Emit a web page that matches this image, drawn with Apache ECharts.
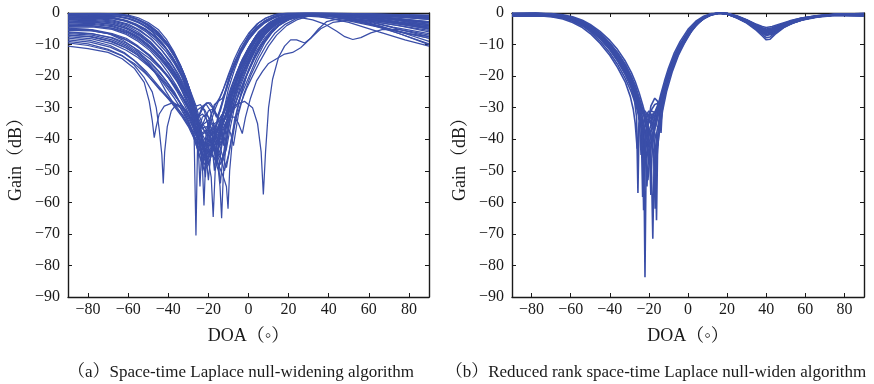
<!DOCTYPE html>
<html>
<head>
<meta charset="utf-8">
<script src="https://cdn.jsdelivr.net/npm/echarts@6/dist/echarts.min.js"></script>
<style>
  html, body { margin: 0; padding: 0; background: #fff; }
  #chart { width: 874px; height: 384px; }
</style>
</head>
<body>
<div id="chart"></div>
<script>
// Tick positions shared by both panels
const doaTicks = [-80, -60, -40, -20, 0, 20, 40, 60, 80];
const gainTicks = [0, -10, -20, -30, -40, -50, -60, -70, -80, -90];

// Panel (a): beam patterns of the space-time Laplace null-widening runs, [DOA°, gain dB]
const runsA = [
  [[-90,-0.5],[-75,-0.4],[-65,-0.6],[-60,-1],[-55,-2],[-50,-3.5],[-45,-6],[-40,-10],[-36,-14],[-33,-18],[-30,-23],[-28,-27],[-26,-31],[-24,-36],[-22,-42],[-20,-48],[-19,-46],[-17,-38],[-15,-32],[-12,-26],[-9,-20],[-6,-15.5],[-3,-11.5],[0,-8.5],[4,-5.5],[8,-3.2],[12,-1.8],[17,-0.6],[22,-0.2],[30,-0.3],[45,-0.6],[60,-1],[75,-1.2],[90,-1.5]],
  [[-90,-1.2],[-75,-1],[-64,-1.2],[-58,-2],[-53,-3.5],[-48,-6],[-43,-9.5],[-38,-14],[-34,-19],[-31,-24],[-29,-28],[-27,-33],[-26,-38],[-25,-33],[-23,-29.5],[-21,-29],[-19,-31],[-17,-36],[-15.5,-45],[-14,-38],[-12,-30],[-10,-24],[-7,-18],[-4,-13],[0,-8.5],[4,-5],[9,-2.5],[14,-1],[20,-0.3],[30,-0.2],[45,-0.5],[60,-1.2],[75,-2],[90,-3]],
  [[-90,-2],[-78,-1.8],[-68,-2.2],[-60,-3.5],[-54,-5.5],[-48,-8.5],[-43,-12],[-38,-16.5],[-34,-21],[-31,-25],[-29,-29],[-27.2,-36],[-26.2,-70.5],[-25.3,-38],[-23,-33],[-21,-32],[-19,-34],[-16,-37],[-13,-33],[-10,-27],[-7,-21],[-4,-16],[0,-11],[4,-7],[9,-4],[14,-2],[20,-0.8],[28,-0.3],[40,-0.8],[55,-1.5],[70,-2.5],[80,-3.5],[90,-4.5]],
  [[-90,-3],[-78,-2.8],[-68,-3.5],[-60,-5],[-54,-7],[-48,-10],[-43,-13.5],[-39,-17],[-35,-21],[-32,-25],[-29,-30],[-27,-34],[-25,-39],[-23.2,-45],[-22.2,-61],[-21.2,-44],[-19,-38],[-17,-35],[-14,-34],[-11,-30],[-8,-24],[-5,-19],[-2,-14],[2,-9.5],[6,-6],[11,-3],[16,-1.5],[22,-0.5],[30,-0.2],[45,-0.4],[60,-0.8],[75,-1.3],[90,-2]],
  [[-90,-4],[-78,-4],[-68,-4.8],[-60,-6.3],[-54,-8.5],[-48,-11.5],[-43,-15],[-38,-19],[-34,-23],[-31,-27],[-28,-31],[-26,-35],[-24,-40],[-22,-44],[-20,-47],[-18.6,-52],[-17.6,-64.6],[-16.6,-50],[-15,-42],[-13,-36],[-10,-29],[-7,-23],[-4,-18],[0,-12.5],[4,-8],[9,-4.5],[14,-2.3],[20,-1],[28,-0.4],[40,-0.6],[55,-1.5],[70,-3],[80,-4],[90,-5]],
  [[-90,-5],[-78,-5.3],[-68,-6.5],[-61,-8],[-55,-10.5],[-49,-13.5],[-44,-17],[-40,-20.5],[-36,-24.5],[-32,-29],[-29,-33],[-26,-38],[-23,-42],[-20,-44],[-17,-46],[-15,-50],[-14.2,-55],[-13.4,-65],[-12.6,-52],[-11,-40],[-8,-30],[-5,-23],[-1,-16],[3,-11],[7,-7],[12,-4],[17,-2],[23,-0.8],[32,-0.5],[45,-1],[60,-2.5],[75,-4],[90,-5.5]],
  [[-90,-6],[-78,-6.5],[-68,-8],[-61,-10],[-55,-12.5],[-49,-15.5],[-44,-19],[-40,-22.5],[-36,-26.5],[-33,-30],[-30,-34],[-27,-39],[-24,-42],[-21,-43],[-18,-45],[-15,-48],[-12.5,-52],[-11,-55],[-10.2,-62],[-9.4,-50],[-8,-40],[-6,-32],[-3,-24],[0,-18],[4,-12],[8,-8],[13,-4.5],[18,-2.5],[24,-1.2],[32,-0.8],[45,-1.5],[60,-3.5],[75,-6],[90,-8]],
  [[-90,-10.5],[-80,-11.3],[-70,-12.5],[-63,-14.5],[-57,-17.5],[-52,-22],[-49.5,-28],[-48,-34],[-47,-39.5],[-46,-36],[-44.5,-32],[-42,-29.5],[-38,-28.5],[-34,-30],[-31,-33],[-28,-38],[-25,-44],[-22,-50],[-20,-48],[-17,-42],[-14,-38],[-11,-32],[-8,-25],[-5,-19],[-1,-13],[3,-8.5],[8,-5],[13,-2.8],[19,-1.3],[26,-0.6],[35,-1],[50,-3],[65,-6],[78,-8.5],[90,-10.5]],
  [[-90,-9],[-80,-9.8],[-70,-11.5],[-63,-13.5],[-57,-16.5],[-52,-20.5],[-48,-25],[-46,-30],[-44.5,-37],[-43.2,-45],[-42.5,-54],[-41.8,-44],[-40.5,-36],[-38.5,-31],[-36,-29],[-33,-29.5],[-30,-32],[-27,-37],[-24,-43],[-21,-47],[-18,-44],[-15,-39],[-12,-33],[-9,-27],[-6,-21],[-2,-15],[2,-10],[7,-6],[12,-3.5],[18,-1.8],[25,-0.8],[35,-1.2],[50,-2.5],[65,-4.5],[80,-6.5],[90,-7.5]],
  [[-90,-7],[-78,-7.5],[-68,-9],[-61,-11],[-55,-13.5],[-50,-16.5],[-45,-20],[-41,-23.5],[-37,-27],[-34,-30],[-31,-33.5],[-28,-37],[-25,-40],[-22,-42],[-19,-41],[-16,-38],[-13,-34],[-10,-31],[-6,-29],[-2,-28],[2,-30],[4.5,-35],[6.3,-44],[7.4,-57.5],[8.5,-44],[10,-30],[12,-21],[15,-14],[18,-10.5],[21,-8.5],[24,-8.5],[28,-9.5],[31,-8],[35,-5],[39,-2.7],[45,-1.8],[55,-2],[70,-3],[90,-4.5]],
  [[-90,-6.5],[-78,-7],[-68,-8.5],[-61,-10.5],[-55,-13],[-50,-15.5],[-45,-18.5],[-41,-21.5],[-37,-25],[-34,-28.5],[-31,-32],[-28,-36],[-25,-40],[-22,-43],[-19,-45],[-16,-42],[-13,-37],[-10,-33],[-7,-33],[-5,-35],[-3.1,-38.2],[-1.5,-33],[1,-27],[4,-21.5],[7,-18.5],[10,-16],[14,-14.5],[18,-13],[22,-12.5],[26,-11],[31,-8],[36,-5],[42,-3],[50,-2.3],[60,-2.5],[75,-4],[90,-6]],
  [[-90,-3.5],[-78,-3.3],[-68,-4],[-61,-5.5],[-55,-7.5],[-50,-10],[-45,-13],[-40,-17],[-36,-21],[-33,-25],[-30,-29.5],[-27,-35],[-24,-41],[-21,-45],[-18,-42],[-15,-36],[-12,-30],[-9,-24],[-6,-19],[-3,-14.5],[1,-10],[5,-6.5],[10,-3.8],[15,-2.2],[20,-1.5],[26,-1.5],[32,-2.2],[38,-3.5],[44,-5.8],[48,-7.5],[52,-8.4],[56,-7.8],[61,-6.3],[67,-5.2],[75,-5.3],[82,-6],[90,-7]],
  [[-90,-0.3],[-75,-0.2],[-66,-0.4],[-61,-0.8],[-56,-1.8],[-51,-3.5],[-46,-6],[-41,-9.5],[-37,-13.5],[-34,-17.5],[-31,-22],[-29,-26],[-27,-31],[-25.5,-34],[-24,-31.5],[-22,-29],[-20,-28.5],[-18,-30],[-16,-33],[-14,-31],[-12,-26.5],[-10,-22],[-7,-16.5],[-4,-12],[0,-7.5],[4,-4.5],[8,-2.5],[13,-1],[18,-0.3],[25,-0.1],[40,-0.3],[55,-0.6],[70,-0.8],[90,-1]],
  [[-90,-1.5],[-77,-1.3],[-67,-1.6],[-61,-2.5],[-56,-3.8],[-51,-5.5],[-46,-8],[-41,-11.5],[-37,-15.5],[-33,-20],[-30,-24.5],[-28,-28.5],[-26,-33],[-24,-37],[-22,-34],[-20,-31],[-18,-30.5],[-16,-32],[-14,-36],[-12.5,-42],[-11,-36],[-9,-28],[-6,-21],[-3,-15],[1,-10],[5,-6],[10,-3.2],[15,-1.5],[21,-0.5],[30,-0.3],[45,-0.8],[60,-1.8],[75,-3],[90,-4]],
  [[-90,-2.5],[-78,-2.3],[-68,-2.8],[-61,-4],[-55,-6],[-49,-9],[-44,-12.5],[-39,-16.5],[-35,-20.5],[-32,-24],[-29,-28],[-26,-32],[-23,-36],[-20,-40],[-17,-43],[-14,-46],[-12,-50],[-10,-45],[-8,-38],[-6,-33],[-4,-29],[-1,-24],[2,-20],[6,-15],[10,-10.5],[14,-7],[19,-4],[24,-2.2],[30,-1],[38,-0.5],[50,-0.8],[65,-1.5],[80,-2.5],[90,-3.2]],
  [[-90,-4.5],[-78,-4.4],[-68,-5.2],[-61,-6.8],[-55,-9],[-49,-12],[-44,-15.5],[-40,-19],[-36,-23],[-33,-26.5],[-30,-30.5],[-27,-35.5],[-25,-39],[-23,-42],[-21,-46],[-20,-53],[-19,-46],[-17,-40],[-15,-36],[-13,-33],[-10,-27],[-7,-21],[-4,-16],[0,-11],[4,-7],[9,-4],[14,-2],[20,-0.8],[28,-0.2],[40,-0.4],[55,-1],[70,-2],[90,-3.5]],
  [[-90,-5.5],[-78,-5.7],[-68,-6.8],[-61,-8.5],[-55,-10.8],[-49,-13.8],[-44,-17],[-40,-20],[-36,-23.5],[-33,-26.5],[-30,-29.5],[-27,-33],[-24,-36],[-21,-38],[-18,-40],[-16,-44],[-14,-48],[-12,-44],[-10,-36],[-7,-28],[-4,-22],[0,-16],[4,-11],[8,-7],[13,-4],[18,-2],[24,-0.8],[32,-0.3],[45,-0.8],[60,-2],[75,-3.5],[90,-5]],
  [[-90,-7.5],[-78,-8.2],[-68,-9.8],[-61,-11.8],[-55,-14.2],[-50,-16.8],[-45,-19.8],[-41,-22.8],[-37,-26],[-34,-28.5],[-31,-31],[-28,-34],[-26,-37],[-24,-41],[-22.6,-46],[-21.5,-52],[-20.5,-44],[-19,-39],[-16,-35],[-13,-32],[-10,-28],[-7,-23],[-4,-18],[0,-13],[4,-8.5],[9,-5],[14,-2.7],[20,-1.2],[27,-0.5],[38,-0.6],[52,-1.8],[68,-4],[80,-6],[90,-7.5]],
  [[-90,-8.5],[-79,-9.2],[-69,-10.8],[-62,-12.8],[-56,-15.5],[-51,-18.5],[-47,-21.5],[-43,-24.5],[-39,-27.5],[-36,-30],[-33,-32.5],[-30,-35.5],[-27,-39],[-25,-43],[-24.2,-55],[-23.4,-44],[-21,-40],[-18,-38],[-15,-37],[-12,-34],[-9,-29],[-6,-24],[-3,-19],[1,-14],[5,-9.5],[10,-5.5],[15,-3],[21,-1.4],[28,-0.6],[40,-1],[55,-2.5],[70,-5],[90,-8]],
  [[-90,-2],[-78,-1.6],[-68,-1.8],[-62,-2.5],[-57,-3.5],[-52,-5],[-47,-7.5],[-42,-10.5],[-38,-14],[-34,-18.5],[-31,-23],[-29,-27],[-27,-31.5],[-25,-36],[-23,-41],[-21,-46],[-19,-44],[-17,-39],[-15,-33],[-13,-28],[-10,-21],[-7,-16],[-4,-12],[0,-8],[4,-5],[8,-3],[13,-1.3],[18,-0.4],[25,-0.1],[40,-0.2],[55,-0.5],[70,-0.9],[90,-1.2]],
  [[-90,-3.2],[-78,-3],[-68,-3.6],[-61,-5],[-55,-7],[-49,-9.8],[-44,-13],[-39,-17],[-35,-21],[-32,-24.5],[-29,-28.5],[-27,-31.5],[-25,-33],[-23,-32],[-21,-33.5],[-19,-37],[-17,-42],[-15,-48],[-14,-54],[-13,-47],[-11,-38],[-9,-31],[-6,-24],[-3,-18],[1,-12.5],[5,-8],[10,-4.5],[15,-2.3],[21,-0.9],[30,-0.3],[45,-0.6],[60,-1.3],[75,-2.2],[90,-3]],
  [[-90,-0.8],[-76,-0.6],[-66,-0.9],[-60,-1.6],[-55,-2.8],[-50,-4.5],[-45,-7],[-40,-10.5],[-36,-14.5],[-33,-18.5],[-30,-23.5],[-28,-28],[-26,-33],[-24,-38],[-22.5,-44],[-21,-40],[-19,-35],[-17,-31],[-15,-28],[-13,-25],[-10,-20],[-7,-15.5],[-4,-11.5],[0,-7.5],[4,-4.5],[9,-2.2],[14,-0.9],[20,-0.2],[30,0],[45,-0.2],[60,-0.5],[75,-0.9],[90,-1.3]],
  [[-90,-6.2],[-78,-6.6],[-68,-7.8],[-61,-9.5],[-55,-11.8],[-49,-14.6],[-44,-17.6],[-40,-20.5],[-36,-23.8],[-33,-26.6],[-30,-29.8],[-27,-33.5],[-25,-36],[-23,-38],[-21,-37],[-19,-36],[-17,-38],[-15,-41],[-13,-45],[-11,-49],[-9,-42],[-7,-34],[-4,-26],[-1,-20],[3,-14],[7,-9.5],[12,-5.5],[17,-3],[23,-1.3],[30,-0.5],[42,-0.8],[58,-2.3],[72,-4.5],[90,-6.5]],
  [[-90,-1.8],[-78,-1.5],[-67,-1.7],[-61,-2.6],[-56,-4],[-51,-6],[-46,-8.8],[-41,-12.3],[-37,-16],[-33,-20.5],[-30,-25],[-28,-29],[-26,-33],[-24,-36],[-22,-35],[-20,-34],[-18,-35.5],[-16,-39],[-14,-42],[-12,-38],[-10,-31],[-7,-23.5],[-4,-17.5],[0,-12],[4,-7.5],[8,-4.5],[13,-2.2],[19,-0.8],[26,-0.2],[40,-0.3],[55,-0.8],[70,-1.6],[90,-2.7]],
  [[-90,-9.5],[-80,-10.3],[-70,-11.8],[-63,-13.6],[-57,-16],[-52,-18.8],[-47,-22],[-43,-25],[-39,-28],[-36,-30.5],[-33,-33],[-30,-36],[-27,-40],[-25,-44],[-23,-48],[-21,-45],[-19,-41],[-16,-38],[-13,-35],[-10,-31],[-7,-26],[-4,-21],[0,-15.5],[4,-10.5],[8,-7],[13,-4],[18,-2.2],[24,-1],[32,-0.6],[45,-1.3],[60,-3.2],[75,-6.5],[90,-9.8]],
  [[-90,-4.8],[-80,-5.2],[-70,-6.5],[-63,-8.5],[-57,-11],[-52,-14],[-48,-17.5],[-44,-21.5],[-41,-25],[-38,-28],[-35,-30.5],[-32,-33],[-29,-36.5],[-26,-40.5],[-23.5,-45],[-22,-48],[-20,-46],[-18,-42],[-15,-38],[-12,-34],[-9,-28],[-6,-22],[-2,-16.5],[2,-11.5],[6,-7.5],[11,-4.2],[16,-2.2],[22,-0.9],[30,-0.3],[45,-0.5],[60,-1.4],[75,-2.8],[90,-4]],
  [[-90,-0.4],[-76,-0.3],[-66,-0.5],[-60,-1.1],[-55,-2.2],[-50,-3.8],[-45,-6.3],[-41,-9.3],[-37,-13],[-34,-16.5],[-31,-21],[-29,-25],[-27,-29.5],[-25,-33],[-23,-30.5],[-21,-28.5],[-19,-28.5],[-17,-30.5],[-15,-34],[-13,-38],[-11.5,-44],[-10,-37],[-8,-28],[-5,-20],[-2,-14.5],[2,-9],[6,-5.5],[11,-2.8],[16,-1.2],[22,-0.3],[32,0],[45,-0.1],[60,-0.3],[75,-0.5],[90,-0.7]],
  [[-90,-2.8],[-78,-2.6],[-68,-3.1],[-61,-4.5],[-55,-6.5],[-50,-9],[-45,-12],[-40,-15.8],[-36,-19.5],[-33,-23],[-30,-27],[-28,-30],[-26,-33.5],[-24,-37.5],[-22,-42],[-20.5,-48],[-19,-42],[-17,-37],[-15,-34],[-13,-32],[-11,-29],[-8,-23],[-5,-18],[-1,-13],[3,-8.5],[7,-5.5],[12,-3],[17,-1.5],[23,-0.5],[32,-0.2],[45,-0.6],[60,-1.5],[75,-3],[90,-4.8]],
  [[-90,-0.2],[-75,-0.1],[-65,-0.3],[-60,-0.7],[-55,-1.5],[-50,-3],[-45,-5.2],[-41,-8.3],[-37,-12.5],[-34,-16.5],[-31,-21.5],[-29,-25.5],[-27,-30],[-25,-35],[-23,-40],[-21.5,-47],[-20.5,-40],[-19,-33],[-17,-29],[-15,-28],[-13,-27],[-11,-24],[-9,-20],[-6,-15],[-3,-10.5],[1,-6],[5,-3.2],[9,-1.5],[14,-0.4],[20,0],[35,0],[50,-0.2],[65,-0.4],[80,-0.6],[90,-0.8]],
  [[-90,-1],[-76,-0.8],[-66,-1.1],[-60,-1.9],[-55,-3.1],[-50,-4.8],[-45,-7.3],[-40,-10.8],[-36,-14.8],[-33,-18.5],[-30,-23],[-27,-28],[-25,-32],[-23,-35],[-21,-37],[-19,-40],[-17,-44],[-16,-48],[-15,-43],[-13,-39],[-11,-36],[-9,-33],[-7,-29.5],[-4,-24.5],[-1,-20],[3,-14.5],[7,-10],[11,-6.5],[15,-4],[20,-2],[26,-0.8],[33,-0.2],[45,-0.2],[60,-0.6],[75,-1.2],[90,-2]],
  [[-90,-3.8],[-78,-3.6],[-68,-4.3],[-61,-5.8],[-55,-7.8],[-49,-10.6],[-44,-13.8],[-40,-16.8],[-36,-20.3],[-33,-23.5],[-30,-27],[-28,-29.5],[-26,-31],[-24,-30],[-22,-30.5],[-20,-33],[-18,-38],[-16.5,-46],[-15.5,-40],[-14,-35],[-12,-31],[-10,-28],[-8,-26],[-5,-22],[-2,-17.5],[2,-12],[6,-7.8],[10,-4.8],[15,-2.6],[20,-1.2],[28,-0.3],[40,-0.2],[55,-0.7],[70,-1.8],[80,-3],[90,-4.2]],
  [[-90,-5.2],[-79,-5.5],[-69,-6.6],[-62,-8.2],[-56,-10.4],[-50,-13.3],[-45,-16.5],[-41,-19.5],[-37,-23],[-34,-26],[-31,-29.3],[-28,-33],[-26,-36],[-24,-39],[-22,-38],[-20,-37],[-18,-39],[-16,-42],[-14,-40],[-12,-36],[-10,-33],[-8,-31],[-6,-29.5],[-3,-25],[0,-20.5],[4,-14.5],[8,-9.5],[12,-6],[16,-3.5],[21,-1.7],[27,-0.6],[35,-0.3],[50,-0.9],[65,-2.2],[80,-3.8],[90,-5]],
  [[-90,-0.6],[-76,-0.4],[-66,-0.5],[-61,-0.9],[-57,-1.7],[-53,-2.9],[-49,-4.5],[-45,-6.5],[-41,-9.2],[-38,-12],[-35,-15.5],[-32,-19.5],[-30,-23],[-28,-27],[-26.5,-31],[-25,-36],[-24,-42],[-23,-50],[-22,-42],[-20.5,-36],[-18.5,-32],[-16.5,-29],[-14.5,-27],[-12.5,-24],[-10,-19.5],[-7,-14.5],[-4,-10.5],[0,-6.5],[4,-3.6],[8,-1.8],[13,-0.5],[19,0],[30,0],[45,-0.1],[60,-0.3],[75,-0.6],[90,-1]],
  [[-90,-7],[-79,-7.6],[-69,-9],[-62,-10.8],[-56,-13],[-51,-15.6],[-46,-18.6],[-42,-21.5],[-38,-24.8],[-35,-27.5],[-32,-30.5],[-29,-34],[-27,-37],[-25,-41],[-23.5,-45],[-22,-43],[-20,-40],[-18,-41],[-16,-45],[-14.8,-50],[-13.8,-44],[-12,-37],[-10,-32],[-7,-26],[-4,-20.5],[0,-15],[4,-10],[8,-6.5],[13,-3.8],[18,-2],[24,-0.9],[32,-0.5],[45,-1.4],[60,-3.5],[75,-6.5],[90,-10]],
  [[-90,-1.4],[-77,-1.2],[-67,-1.5],[-61,-2.3],[-56,-3.5],[-51,-5.2],[-46,-7.6],[-42,-10.3],[-38,-13.8],[-35,-17],[-32,-21],[-30,-24],[-28,-27.5],[-26,-29.5],[-24,-29],[-22,-31],[-20,-36],[-18,-43],[-17,-50],[-16,-43],[-14,-37],[-12,-34],[-10,-32],[-8,-28],[-6,-23.5],[-3,-17.5],[1,-11.5],[5,-7],[9,-4],[14,-1.8],[20,-0.5],[28,0],[40,-0.1],[55,-0.4],[70,-0.9],[90,-1.8]],
  [[-90,-8],[-79,-8.7],[-69,-10.3],[-62,-12.5],[-57,-15],[-52,-18.3],[-48,-21.5],[-44,-24.5],[-40,-27],[-37,-28.5],[-34,-29.8],[-31,-31.5],[-28,-34],[-25,-37.5],[-22,-41],[-19,-44],[-16,-47],[-14,-43],[-12,-38],[-10,-34],[-8,-31],[-5,-26],[-2,-21],[2,-15.5],[6,-10.5],[10,-7],[15,-4],[20,-2.2],[27,-0.9],[36,-0.6],[50,-1.8],[65,-4],[78,-6.5],[90,-9]],
  [[-90,-2.2],[-78,-2],[-68,-2.5],[-61,-3.6],[-55,-5.4],[-49,-8],[-44,-11.2],[-39,-15.2],[-35,-19.3],[-32,-23],[-29,-27.5],[-27,-31],[-25,-35],[-23,-38.5],[-21,-41],[-19,-42],[-17,-40],[-15,-37],[-13,-35],[-11,-35.5],[-9,-38],[-7.5,-42],[-6.5,-38],[-5,-32],[-2.5,-26],[1,-20],[5,-14.5],[9,-10],[13,-6.5],[18,-3.7],[24,-1.7],[32,-0.5],[45,-0.3],[60,-0.8],[75,-1.7],[90,-2.8]],
  [[-90,-4.2],[-78,-4.1],[-68,-4.9],[-61,-6.4],[-55,-8.5],[-49,-11.4],[-44,-14.7],[-40,-17.8],[-36,-21.4],[-33,-24.7],[-30,-28.5],[-27,-32.5],[-25,-35],[-23,-36.5],[-21,-36],[-19,-37.5],[-17,-40],[-15,-44],[-13,-47],[-11,-43],[-9,-36],[-7,-30],[-4,-23],[0,-16.5],[4,-11],[8,-7],[13,-3.8],[18,-1.8],[24,-0.6],[32,-0.1],[45,-0.3],[60,-1],[75,-2.3],[90,-3.8]]
];

// Panel (b): beam patterns of the reduced-rank variant, [DOA°, gain dB]
const runsB = [
  [[-90,-0.3],[-78,-0.2],[-70,-0.5],[-64,-1],[-59,-1.8],[-54,-3],[-50,-4.5],[-45,-7],[-40,-10.3],[-36,-13.5],[-32,-17.5],[-29,-21.5],[-27,-24.5],[-25,-28.5],[-23,-34],[-21.5,-40],[-20,-48],[-18.5,-40],[-17,-35],[-15,-30],[-13,-25],[-10,-18.5],[-7,-13.5],[-4,-9.8],[0,-5.8],[4,-3],[8,-1.2],[12,-0.3],[16,0],[20,-0.3],[25,-1.3],[30,-2.6],[35,-4.2],[38,-5.3],[40,-5.8],[43,-5.4],[47,-4.3],[52,-3],[58,-1.9],[66,-1],[75,-0.5],[90,-0.3]],
  [[-90,-0.5],[-78,-0.4],[-70,-0.7],[-64,-1.3],[-59,-2.2],[-54,-3.6],[-50,-5.2],[-45,-8],[-40,-11.5],[-36,-15],[-32,-19.5],[-29,-23.5],[-27,-27],[-25,-31],[-23.5,-36],[-22.6,-45],[-22,-83.7],[-21.4,-46],[-20,-38],[-18,-33],[-16,-30],[-14,-27],[-12,-23],[-10,-19],[-7,-14],[-4,-10.2],[0,-6.2],[4,-3.3],[8,-1.4],[12,-0.4],[16,0],[20,-0.2],[25,-1.1],[30,-2.4],[35,-4],[38,-5],[40,-5.5],[43,-5.1],[47,-4],[52,-2.8],[58,-1.8],[66,-1],[75,-0.6],[90,-0.5]],
  [[-90,-0.2],[-78,-0.1],[-70,-0.3],[-64,-0.8],[-59,-1.5],[-54,-2.6],[-50,-4],[-45,-6.3],[-40,-9.5],[-36,-12.5],[-32,-16.3],[-29,-20],[-27,-23],[-25,-27],[-23,-31],[-21,-35],[-19.5,-42],[-18.6,-52],[-18,-71.5],[-17.4,-50],[-16,-38],[-14,-31],[-12,-26],[-10,-20.5],[-7,-15],[-4,-11],[0,-6.8],[4,-3.6],[8,-1.6],[12,-0.5],[16,0],[20,-0.1],[25,-0.9],[30,-2.1],[35,-3.7],[38,-4.7],[40,-5.1],[43,-4.7],[47,-3.8],[52,-2.6],[58,-1.6],[66,-0.9],[75,-0.4],[90,-0.2]],
  [[-90,-0.6],[-78,-0.5],[-70,-0.8],[-64,-1.2],[-59,-2],[-54,-3.2],[-50,-4.7],[-45,-7.2],[-40,-10.5],[-36,-13.8],[-32,-17.8],[-29,-21.8],[-27,-25],[-25,-28.5],[-23,-32],[-21,-33],[-19,-32],[-17.5,-38],[-16.6,-48],[-16.1,-65.7],[-15.6,-45],[-14.5,-33],[-13,-27],[-10,-20],[-7,-14.8],[-4,-10.8],[0,-6.5],[4,-3.4],[8,-1.5],[12,-0.4],[16,0],[20,-0.2],[25,-1.2],[30,-2.5],[35,-4.3],[38,-5.6],[40,-6.2],[43,-5.8],[47,-4.6],[52,-3.2],[58,-2],[66,-1.1],[75,-0.6],[90,-0.5]],
  [[-90,-0.4],[-78,-0.3],[-70,-0.6],[-64,-1.1],[-59,-2],[-54,-3.3],[-50,-4.9],[-45,-7.6],[-40,-11],[-36,-14.6],[-32,-19],[-29,-23.5],[-27.5,-27],[-26.3,-33],[-25.6,-57],[-25,-35],[-24,-33],[-22,-37],[-20,-42],[-18,-40],[-16,-34],[-14,-28.5],[-12,-24],[-10,-19.5],[-7,-14.3],[-4,-10.3],[0,-6.2],[4,-3.2],[8,-1.3],[12,-0.3],[16,0],[20,-0.3],[25,-1.3],[30,-2.7],[35,-4.5],[38,-6],[40,-6.8],[43,-6.2],[47,-4.8],[52,-3.3],[58,-2.1],[66,-1.2],[75,-0.6],[90,-0.4]],
  [[-90,-0.8],[-78,-0.7],[-70,-0.9],[-64,-1.4],[-59,-2.3],[-54,-3.7],[-50,-5.3],[-45,-8.1],[-40,-11.6],[-36,-15.2],[-32,-19.5],[-29,-23.5],[-27,-27],[-25.5,-31],[-24,-36],[-23.2,-44],[-22.7,-62.5],[-22.2,-44],[-21,-36],[-19,-31],[-17,-29],[-15,-28.5],[-13,-26],[-10,-20],[-7,-14.7],[-4,-10.6],[0,-6.4],[4,-3.3],[8,-1.4],[12,-0.4],[16,0],[20,-0.2],[25,-1.1],[30,-2.4],[35,-4.1],[38,-5.2],[40,-5.7],[43,-5.3],[47,-4.2],[52,-3],[58,-1.9],[66,-1],[75,-0.6],[90,-0.6]],
  [[-90,-0.3],[-78,-0.2],[-70,-0.4],[-64,-0.9],[-59,-1.7],[-54,-2.9],[-50,-4.3],[-45,-6.7],[-40,-9.8],[-36,-13],[-32,-17],[-29,-20.8],[-27,-23.8],[-25,-27.5],[-23,-31.5],[-21,-35],[-19,-40],[-17.5,-46],[-17,-50],[-16,-42],[-14.5,-33],[-13,-28],[-10,-21],[-7,-15.6],[-4,-11.5],[0,-7.2],[4,-3.9],[8,-1.8],[12,-0.6],[16,-0.1],[20,-0.3],[25,-1.6],[30,-3.2],[35,-5.5],[38,-7.3],[40,-8.5],[42,-8.3],[45,-6.5],[49,-4.6],[54,-3.1],[60,-1.9],[67,-1.1],[75,-0.6],[90,-0.3]],
  [[-90,-0.5],[-78,-0.4],[-70,-0.6],[-64,-1.1],[-59,-1.9],[-54,-3.1],[-50,-4.6],[-45,-7.1],[-40,-10.4],[-36,-13.8],[-32,-18],[-29,-22],[-27,-25.5],[-25,-30],[-24,-34],[-23.2,-58.3],[-22.5,-38],[-21,-33],[-19,-31],[-17,-31.5],[-15,-30],[-13,-26],[-10,-19.8],[-7,-14.6],[-4,-10.7],[0,-6.6],[4,-3.5],[8,-1.6],[12,-0.5],[16,0],[20,-0.3],[25,-1.5],[30,-3],[35,-5.2],[38,-6.8],[40,-7.8],[42,-7.6],[45,-6.1],[49,-4.4],[54,-3],[60,-1.9],[67,-1.1],[75,-0.6],[90,-0.5]],
  [[-90,-0.2],[-78,-0.1],[-70,-0.4],[-64,-0.9],[-59,-1.6],[-54,-2.8],[-50,-4.2],[-45,-6.6],[-40,-9.7],[-36,-12.9],[-32,-16.8],[-29,-20.5],[-27,-23.5],[-25,-27.3],[-23,-31.5],[-21,-36.5],[-19.6,-45],[-19,-57.7],[-18.4,-44],[-17,-36],[-15,-30.5],[-13,-26],[-10,-20.2],[-7,-15],[-4,-11],[0,-6.8],[4,-3.6],[8,-1.6],[12,-0.5],[16,0],[20,-0.2],[25,-1],[30,-2.2],[35,-3.6],[38,-4.3],[40,-4.6],[43,-4.3],[47,-3.5],[52,-2.5],[58,-1.6],[66,-0.9],[75,-0.4],[90,-0.2]],
  [[-90,-0.7],[-78,-0.6],[-70,-1],[-64,-1.6],[-59,-2.6],[-54,-4.1],[-50,-5.9],[-45,-8.9],[-40,-12.6],[-36,-16.3],[-32,-20.8],[-29,-25],[-27,-28.5],[-25,-33],[-23,-39],[-21.5,-47],[-20.5,-53],[-19.5,-45],[-18,-38],[-16,-33],[-14,-29],[-12,-24.5],[-10,-20.5],[-7,-15.2],[-4,-11.1],[0,-6.9],[4,-3.7],[8,-1.7],[12,-0.5],[16,0],[20,-0.2],[25,-1.2],[30,-2.5],[35,-4.3],[38,-5.5],[40,-6.1],[43,-5.7],[47,-4.5],[52,-3.1],[58,-2],[66,-1.1],[75,-0.6],[90,-0.6]],
  [[-90,-0.1],[-78,0],[-70,-0.2],[-64,-0.6],[-59,-1.2],[-54,-2.3],[-50,-3.6],[-45,-5.8],[-40,-8.7],[-36,-11.6],[-32,-15.3],[-29,-18.8],[-27,-21.7],[-25,-25.3],[-23,-29.5],[-21,-34],[-19.5,-38],[-18,-36],[-16,-31],[-14,-26],[-12,-21.5],[-10,-17.5],[-7,-12.6],[-4,-9],[0,-5.2],[4,-2.6],[8,-1],[12,-0.2],[16,0],[20,-0.4],[25,-1.4],[30,-2.8],[35,-4.5],[38,-5.8],[40,-6.4],[43,-6],[47,-4.8],[52,-3.3],[58,-2.1],[66,-1.2],[75,-0.6],[90,-0.2]],
  [[-90,-0.4],[-78,-0.3],[-70,-0.5],[-64,-1],[-59,-1.8],[-54,-3],[-50,-4.5],[-45,-7],[-40,-10.2],[-36,-13.5],[-32,-17.5],[-29,-21.5],[-27,-24.5],[-25,-28.5],[-23,-34],[-21.5,-40],[-20.2,-35],[-19,-29.5],[-17,-27],[-15.5,-28],[-14.5,-32],[-13.8,-38],[-13.2,-31],[-12,-25.5],[-10,-20],[-7,-14.7],[-4,-10.8],[0,-6.6],[4,-3.5],[8,-1.5],[12,-0.4],[16,0],[20,-0.2],[25,-1.2],[30,-2.5],[35,-4.2],[38,-5.4],[40,-5.9],[43,-5.5],[47,-4.4],[52,-3.1],[58,-2],[66,-1.1],[75,-0.6],[90,-0.4]],
  [[-90,-0.6],[-78,-0.5],[-70,-0.7],[-64,-1.2],[-59,-2.1],[-54,-3.4],[-50,-5],[-45,-7.6],[-40,-11],[-36,-14.4],[-32,-18.7],[-29,-22.8],[-27,-26],[-25,-30.5],[-23,-36],[-21.8,-44],[-21,-55],[-20.2,-44],[-19,-38],[-17,-32.5],[-15,-29],[-13,-25.5],[-10,-19.5],[-7,-14.4],[-4,-10.5],[0,-6.4],[4,-3.3],[8,-1.4],[12,-0.3],[16,0],[20,-0.3],[25,-1.3],[30,-2.7],[35,-4.6],[38,-6.1],[40,-7],[43,-6.6],[47,-5.1],[52,-3.5],[58,-2.2],[66,-1.2],[75,-0.7],[90,-0.6]],
  [[-90,-0.3],[-78,-0.2],[-70,-0.5],[-64,-1],[-59,-1.9],[-54,-3.2],[-50,-4.7],[-45,-7.3],[-40,-10.7],[-36,-14.1],[-32,-18.4],[-29,-22.6],[-27,-26],[-25.5,-31],[-24.5,-38],[-24,-45],[-23.3,-38],[-22,-33],[-20,-31],[-18,-33],[-16,-34],[-14,-29.5],[-12,-24.5],[-10,-20.3],[-7,-15],[-4,-11],[0,-6.8],[4,-3.6],[8,-1.6],[12,-0.5],[16,0],[20,-0.2],[25,-1.1],[30,-2.3],[35,-4],[38,-5.1],[40,-5.6],[43,-5.2],[47,-4.1],[52,-2.9],[58,-1.8],[66,-1],[75,-0.5],[90,-0.3]],
  [[-90,-0.5],[-78,-0.4],[-70,-0.6],[-64,-1.1],[-59,-1.9],[-54,-3.1],[-50,-4.6],[-45,-7.1],[-40,-10.3],[-36,-13.6],[-32,-17.6],[-29,-21.4],[-27,-24.3],[-25,-27.8],[-23,-31],[-21,-33.5],[-19,-35],[-17,-38],[-15.5,-42],[-14.5,-37],[-13,-31],[-11,-25],[-8,-18.5],[-5,-13.5],[-2,-9.8],[2,-5.6],[6,-2.8],[10,-1],[14,-0.2],[18,0],[22,-0.5],[26,-1.5],[30,-2.6],[35,-4.2],[38,-5.3],[40,-5.8],[43,-5.4],[47,-4.3],[52,-3],[58,-1.9],[66,-1],[75,-0.5],[90,-0.5]],
  [[-90,-1],[-78,-0.9],[-70,-1.1],[-64,-1.6],[-59,-2.4],[-54,-3.8],[-50,-5.4],[-45,-8.1],[-40,-11.5],[-36,-15],[-32,-19.3],[-29,-23.4],[-27,-26.8],[-25,-31],[-23.5,-37],[-22.5,-50],[-21.5,-39],[-20,-34],[-18,-32],[-16,-31.5],[-14,-29],[-12,-24.6],[-10,-20],[-7,-14.8],[-4,-10.8],[0,-6.6],[4,-3.5],[8,-1.6],[12,-0.5],[16,-0.1],[20,-0.4],[25,-1.5],[30,-3],[35,-5],[38,-6.4],[40,-7.1],[43,-6.7],[47,-5.2],[52,-3.6],[58,-2.3],[66,-1.3],[75,-0.8],[90,-1]],
  [[-90,-0.2],[-78,-0.1],[-70,-0.3],[-64,-0.8],[-59,-1.5],[-54,-2.7],[-50,-4.1],[-45,-6.5],[-40,-9.6],[-36,-12.8],[-32,-16.7],[-29,-20.4],[-27,-23.3],[-25,-27],[-23,-31.3],[-21,-35.8],[-19,-38],[-17.6,-44],[-16.8,-62],[-16,-45],[-14.5,-34],[-13,-28.5],[-10,-21.5],[-7,-16],[-4,-11.8],[0,-7.3],[4,-3.9],[8,-1.8],[12,-0.6],[16,-0.1],[20,-0.2],[25,-1],[30,-2.3],[35,-3.9],[38,-5],[40,-5.4],[43,-5],[47,-4],[52,-2.8],[58,-1.7],[66,-0.9],[75,-0.4],[90,-0.2]],
  [[-90,-0.9],[-78,-0.8],[-70,-1.2],[-64,-1.9],[-59,-3],[-54,-4.6],[-50,-6.5],[-45,-9.6],[-40,-13.4],[-36,-17.3],[-32,-22],[-29.5,-26.5],[-28,-30.5],[-27,-35],[-26,-43],[-25.2,-36],[-24,-32],[-22,-31],[-20,-33],[-18,-36],[-16.5,-36],[-15,-31.5],[-13,-26],[-10,-19.8],[-7,-14.6],[-4,-10.6],[0,-6.5],[4,-3.4],[8,-1.5],[12,-0.4],[16,0],[20,-0.2],[25,-1.2],[30,-2.5],[35,-4.3],[38,-5.6],[40,-6.2],[43,-5.8],[47,-4.6],[52,-3.2],[58,-2],[66,-1.1],[75,-0.7],[90,-0.9]]
];

const captionA = '（a）Space-time Laplace null-widening algorithm';
const captionB = '（b）Reduced rank space-time Laplace null-widen algorithm';

const FONT = "'Liberation Serif', 'Times New Roman', 'Noto Serif CJK SC', 'Noto Sans CJK SC', serif";
const INK = '#1a1a1a';
const LINE = '#3a4ea8';
const minus = v => String(v).replace('-', '\u2212');

function xAxes(gridIndex, top) {
  return {
    type: 'value', gridIndex, position: top ? 'top' : 'bottom',
    min: -90, max: 90,
    axisLine: { show: true, onZero: false, lineStyle: { color: INK, width: 1.4 } },
    axisTick: { show: true, inside: true, length: 4, customValues: doaTicks, lineStyle: { color: INK } },
    axisLabel: top ? { show: false } : {
      show: true, customValues: doaTicks, formatter: minus, margin: 5,
      color: INK, fontFamily: FONT, fontSize: 16
    },
    splitLine: { show: false },
    name: top ? '' : 'DOA（◦）', nameLocation: 'middle', nameGap: 30,
    nameTextStyle: { color: INK, fontFamily: FONT, fontSize: 18 }
  };
}
function yAxes(gridIndex, right) {
  return {
    type: 'value', gridIndex, position: right ? 'right' : 'left',
    min: -90, max: 0, interval: 10,
    axisLine: { show: true, onZero: false, lineStyle: { color: INK, width: 1.4 } },
    axisTick: { show: true, inside: true, length: 4, lineStyle: { color: INK } },
    axisLabel: right ? { show: false } : {
      show: true, formatter: minus, margin: 8,
      color: INK, fontFamily: FONT, fontSize: 16
    },
    splitLine: { show: false },
    name: right ? '' : 'Gain（dB）', nameLocation: 'middle', nameGap: 43, nameRotate: 90,
    nameTextStyle: { color: INK, fontFamily: FONT, fontSize: 18 }
  };
}

function toSeries(runs, axisIdx, width) {
  return runs.map(run => ({
    type: 'line', data: run, xAxisIndex: axisIdx, yAxisIndex: axisIdx,
    symbol: 'none', silent: true, animation: false, clip: true,
    lineStyle: { color: LINE, width }
  }));
}

const chart = echarts.init(document.getElementById('chart'), null, { renderer: 'canvas' });
chart.setOption({
  backgroundColor: '#fff',
  animation: false,
  grid: [
    { left: 68, top: 13, width: 361, height: 284 },
    { left: 512, top: 13, width: 352, height: 284 }
  ],
  xAxis: [xAxes(0, false), xAxes(0, true), xAxes(1, false), xAxes(1, true)],
  yAxis: [yAxes(0, false), yAxes(0, true), yAxes(1, false), yAxes(1, true)],
  graphic: [
    { type: 'text', x: 241, y: 373, silent: true,
      style: { text: captionA, align: 'center', verticalAlign: 'middle',
               fill: INK, fontFamily: FONT, fontSize: 17 } },
    { type: 'text', x: 656, y: 373, silent: true,
      style: { text: captionB, align: 'center', verticalAlign: 'middle',
               fill: INK, fontFamily: FONT, fontSize: 17 } }
  ],
  series: [...toSeries(runsA, 0, 1.25), ...toSeries(runsB, 2, 1.6)]
});
</script>
</body>
</html>
